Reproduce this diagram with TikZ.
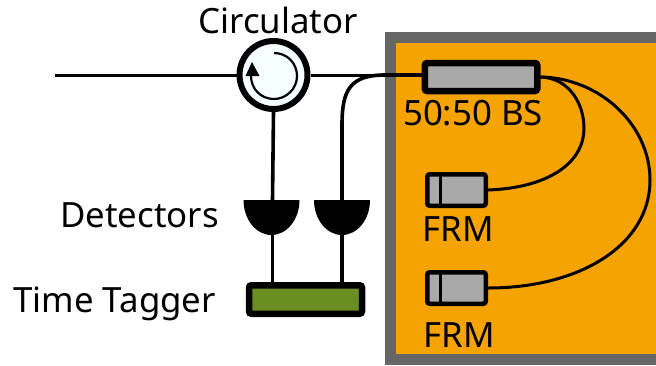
\documentclass[tikz,border=0pt]{standalone}
\usepackage{fontspec}
\setmainfont{Noto Sans}
\definecolor{boxgray}{HTML}{A9A9A9}
\definecolor{boxorange}{HTML}{F5A300}
\definecolor{olive}{HTML}{6B8E23}
\definecolor{frame}{HTML}{666666}
\definecolor{azure}{HTML}{F5FFFF}
\begin{document}
\begin{tikzpicture}[x=1pt,y=-1pt,
  lab/.style={inner sep=0pt,font=\fontsize{34.8}{35}\selectfont,text=black},
  wire/.style={draw=black,line width=3pt},
  thick wire/.style={draw=black,line width=3.6pt},
  comp/.style={draw=black,fill=boxgray,rounded corners=2.5pt,inner sep=0pt}]
\useasboundingbox (0,0) rectangle (656,365);
\path[fill=white] (0,0) rectangle (656,365);
\draw[draw=frame,fill=boxorange,line width=11pt] (390.5,37.5) rectangle (670,359.5);
% connectors behind the components
\node[circle,draw=black,fill=azure,line width=6pt,minimum size=68pt,inner sep=0pt] (circ) at (273.5,75) {};
\node[comp,line width=6.5pt,minimum width=112.5pt,minimum height=28pt] (bs) at (481,77) {};
\node[comp,line width=4.5pt,minimum width=58.5pt,minimum height=31.5pt] (frmA) at (456.5,190) {};
\node[comp,line width=4.5pt,minimum width=58.5pt,minimum height=31.5pt] (frmB) at (456.5,288) {};
\draw[line width=3pt] (440,174) -- (440,206);
\draw[line width=3pt] (440,272) -- (440,304);
\node[comp,fill=olive,line width=6.5pt,minimum width=113pt,minimum height=28.5pt] (tt) at (305.5,299.5) {};
\coordinate (in) at (55,75);
\coordinate (da) at (272.5,200);
\coordinate (db) at (342,200);
\coordinate (dae) at (272.5,235);
\coordinate (dbe) at (342,235);
\fill (243.5,200) arc[start angle=180,end angle=360,x radius=28,y radius=-35] -- cycle;
\fill (314,200) arc[start angle=180,end angle=360,x radius=28,y radius=-35] -- cycle;
\draw[wire] (in) -- (circ.west);
\draw[wire] (circ.east) -- (bs.west |- circ.east);
\draw[thick wire] (circ.south) -- (da);
\draw[thick wire] (db) -- (342,125) .. controls (342,90) and (350,75) .. (385,75) -- (bs.west |- circ.east);
\draw[thick wire] (dae) -- (tt.north -| dae);
\draw[thick wire] (dbe) -- (tt.north -| dbe);
\draw[wire] (bs.east) .. controls (570,78) and (584,105) .. (584,128) .. controls (584,165) and (545,188) .. (frmA.east);
\draw[wire] (bs.east) .. controls (600,78) and (650,125) .. (650,180) .. controls (650,245) and (580,288) .. (frmB.east);
% circulator arrow
\draw[line width=2.2pt] (274,53) .. controls (287,53) and (297,63) .. (297,76) .. controls (297,89) and (286,99) .. (274,99) .. controls (261,99) and (251,89) .. (251,76);
\fill (245.5,76) -- (259.5,76) -- (252,62) -- cycle;
% labels
\node[lab,anchor=base] (lc) at (278,33) {Circulator};
\node[lab,anchor=base] (lb) at (473,125) {50:50 BS};
\node[lab,anchor=base east] (ld) at (219,227) {Detectors};
\node[lab,anchor=base east] (lt) at (216,312) {Time Tagger};
\node[lab,anchor=base] (lf) at (458,241) {FRM};
\node[lab,anchor=base] (lg) at (459,347) {FRM};
\end{tikzpicture}
\end{document}
